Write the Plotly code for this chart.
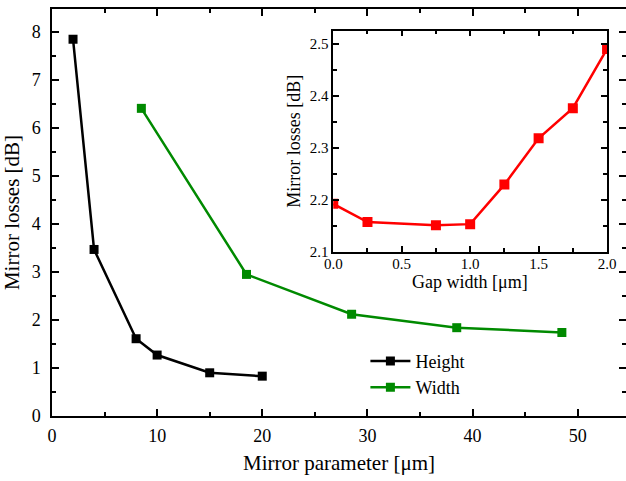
import plotly.graph_objects as go

# Main plot data
height_x = [2, 4, 8, 10, 15, 20]
height_y = [7.85, 3.47, 1.61, 1.27, 0.90, 0.83]
width_x = [8.5, 18.5, 28.5, 38.5, 48.5]
width_y = [6.41, 2.95, 2.12, 1.84, 1.74]

# Inset data
gap_x = [0.0, 0.25, 0.75, 1.0, 1.25, 1.5, 1.75, 2.0]
gap_y = [2.192, 2.157, 2.151, 2.153, 2.229, 2.318, 2.376, 2.490]

FONT = "Liberation Serif, Times New Roman, serif"

fig = go.Figure()
fig.add_trace(go.Scatter(x=height_x, y=height_y, mode="lines+markers", name="Height",
                         line=dict(color="black", width=2.5),
                         marker=dict(symbol="square", size=9, color="black")))
fig.add_trace(go.Scatter(x=width_x, y=width_y, mode="lines+markers", name="Width",
                         line=dict(color="#008a00", width=2.5),
                         marker=dict(symbol="square", size=9, color="#008a00")))
fig.add_trace(go.Scatter(x=gap_x, y=gap_y, mode="lines+markers", name="Gap",
                         xaxis="x2", yaxis="y2", showlegend=False,
                         line=dict(color="#ff0000", width=2.5),
                         marker=dict(symbol="square", size=10, color="#ff0000")))

axis_common = dict(showline=True, linecolor="black", linewidth=1.5, ticks="inside",
                   tickcolor="black", tickwidth=1.5, showgrid=False, zeroline=False,
                   automargin=False)

fig.update_layout(
    width=626, height=481,
    margin=dict(l=52, r=0, t=9, b=65),
    paper_bgcolor="white", plot_bgcolor="white",
    font=dict(family=FONT, color="black"),
    xaxis=dict(**axis_common, range=[0, 54.6], dtick=10, ticklen=7, mirror="all",
               minor=dict(ticks="inside", dtick=5, ticklen=4, tickcolor="black", tickwidth=1.5),
               tickfont=dict(size=18, family=FONT), ticklabelstandoff=3,
               title=dict(text="Mirror parameter [μm]", font=dict(size=21, family=FONT), standoff=10)),
    yaxis=dict(**axis_common, range=[0, 8.48], dtick=1, ticklen=7, mirror="ticks",
               minor=dict(ticks="inside", dtick=0.5, ticklen=4, tickcolor="black", tickwidth=1.5),
               tickfont=dict(size=18, family=FONT), ticklabelstandoff=6,
               title=dict(text="Mirror losses [dB]", font=dict(size=21, family=FONT), standoff=8)),
    xaxis2=dict(**axis_common, domain=[0.490, 0.967], anchor="y2", range=[0, 2], dtick=0.5,
                tickformat=".1f", ticklen=6, mirror="all",
                minor=dict(ticks="inside", dtick=0.25, ticklen=4, tickcolor="black", tickwidth=1.5),
                tickfont=dict(size=15, family=FONT), ticklabelstandoff=-2),
    yaxis2=dict(**axis_common, domain=[0.4037, 0.9467], anchor="x2", range=[2.1, 2.525], dtick=0.1,
                tickformat=".1f", ticklen=6, mirror="all",
                minor=dict(ticks="inside", dtick=0.05, ticklen=4, tickcolor="black", tickwidth=1.5),
                tickfont=dict(size=15, family=FONT),
                title=dict(text="Mirror losses [dB]", font=dict(size=18, family=FONT), standoff=4)),
    legend=dict(x=0.546, y=0.18, xanchor="left", yanchor="top", bgcolor="rgba(0,0,0,0)",
                font=dict(size=18, family=FONT), tracegroupgap=0, itemwidth=40),
    showlegend=True,
    annotations=[dict(text="Gap width [μm]", xref="x2 domain", yref="y2 domain",
                      x=0.5, y=-0.135, xanchor="center", yanchor="middle", showarrow=False,
                      font=dict(size=18, family=FONT))],
)

fig.write_html("out.html", config={"displayModeBar": False},
               post_script="document.body.style.margin='0';document.body.style.overflow='hidden';")
